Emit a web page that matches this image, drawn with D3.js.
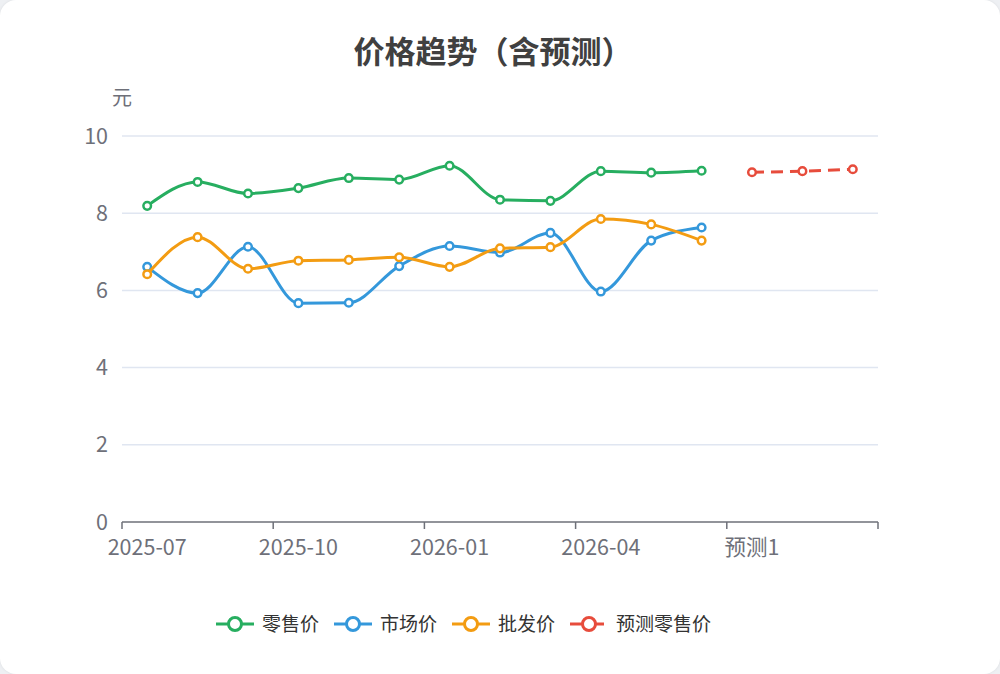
<!DOCTYPE html>
<html>
<head>
<meta charset="utf-8">
<script src="https://cdn.jsdelivr.net/npm/d3@7"></script>
<style>
  html, body { margin: 0; padding: 0; background: #eef0f3; }
  #card {
    width: 1000px; height: 674px; background: #fff; border-radius: 16px;
    box-shadow: 0 0 3px rgba(0,0,0,0.08); overflow: hidden;
  }
  text { font-family: "Noto Sans CJK SC", "Noto Sans", sans-serif; }
</style>
</head>
<body>
<div id="card"></div>
<script>
let w = 1000;
let h = 674;

// categories: 12 months + 3 forecast slots
const months = ["2025-07", "2025-08", "2025-09", "2025-10", "2025-11", "2025-12",
  "2026-01", "2026-02", "2026-03", "2026-04", "2026-05", "2026-06",
  "预测1", "预测2", "预测3"];
const retail = [8.19, 8.81, 8.51, 8.65, 8.91, 8.87, 9.23, 8.35, 8.32, 9.09, 9.05, 9.10];
const market = [6.61, 5.93, 7.13, 5.67, 5.68, 6.63, 7.15, 6.98, 7.49, 5.97, 7.29, 7.63];
const wholesale = [6.42, 7.38, 6.56, 6.77, 6.79, 6.86, 6.61, 7.09, 7.12, 7.85, 7.71, 7.29];
const forecast = [9.06, 9.09, 9.14];
const yTicks = [0, 2, 4, 6, 8, 10];

const series = [
  { name: "零售价", color: "#27ae60", values: retail, offset: 0, dashed: false },
  { name: "市场价", color: "#3498db", values: market, offset: 0, dashed: false },
  { name: "批发价", color: "#f39c12", values: wholesale, offset: 0, dashed: false },
  { name: "预测零售价", color: "#e74c3c", values: forecast, offset: 12, dashed: true },
];

const plotLeft = 122, plotRight = 878, plotTop = 136, plotBottom = 522;

var svg = d3.select("#card").append("svg").attr("width", w).attr("height", h);

var x = d3.scaleBand().domain(months).range([plotLeft, plotRight]).padding(0);
var y = d3.scaleLinear().domain([0, 10]).range([plotBottom, plotTop]);
const cx = (i) => x(months[i]) + x.bandwidth() / 2;

// title
svg.append("text")
  .attr("x", 493).attr("y", 63)
  .attr("text-anchor", "middle")
  .attr("font-size", 31).attr("font-weight", "bold")
  .attr("fill", "#404040")
  .text("价格趋势（含预测）");

// y axis name
svg.append("text")
  .attr("x", 122).attr("y", 105)
  .attr("text-anchor", "middle")
  .attr("font-size", 20).attr("fill", "#6e7079")
  .text("元");

// grid lines + y labels
yTicks.forEach((t) => {
  if (t > 0) {
    svg.append("line")
      .attr("x1", plotLeft).attr("x2", plotRight)
      .attr("y1", y(t)).attr("y2", y(t))
      .attr("stroke", "#e0e6f1").attr("stroke-width", 1.5);
  }
  svg.append("text")
    .attr("x", 108).attr("y", y(t) + 7.5)
    .attr("text-anchor", "end")
    .attr("font-size", 21.5).attr("fill", "#6e7079")
    .text(t);
});

// x axis line, ticks at band boundaries every 3 categories
svg.append("line")
  .attr("x1", plotLeft).attr("x2", plotRight)
  .attr("y1", plotBottom).attr("y2", plotBottom)
  .attr("stroke", "#6e7079").attr("stroke-width", 1.5);

months.forEach((m, i) => {
  if (i % 3 !== 0) return;
  svg.append("line")
    .attr("x1", x(m)).attr("x2", x(m))
    .attr("y1", plotBottom).attr("y2", plotBottom + 7)
    .attr("stroke", "#6e7079").attr("stroke-width", 1.5);
  svg.append("text")
    .attr("x", cx(i)).attr("y", plotBottom + 33)
    .attr("text-anchor", "middle")
    .attr("font-size", 21.5).attr("fill", "#6e7079")
    .text(m);
});
svg.append("line")
  .attr("x1", plotRight).attr("x2", plotRight)
  .attr("y1", plotBottom).attr("y2", plotBottom + 7)
  .attr("stroke", "#6e7079").attr("stroke-width", 1.5);

// lines and markers
var line = d3.line()
  .x((d) => cx(d.i))
  .y((d) => y(d.v))
  .curve(d3.curveMonotoneX);

series.forEach((s) => {
  const pts = s.values.map((v, k) => ({ i: k + s.offset, v: v }));
  const g = svg.append("g");
  g.append("path")
    .datum(pts)
    .attr("d", line)
    .attr("fill", "none")
    .attr("stroke", s.color)
    .attr("stroke-width", 3)
    .attr("stroke-dasharray", s.dashed ? "12,7" : null);
  g.selectAll("circle")
    .data(pts)
    .enter()
    .append("circle")
    .attr("cx", (d) => cx(d.i))
    .attr("cy", (d) => y(d.v))
    .attr("r", 3.8)
    .attr("fill", "#fff")
    .attr("stroke", s.color)
    .attr("stroke-width", 2.5);
});

// legend
let lx = 216;
const ly = 624;
series.forEach((s) => {
  const g = svg.append("g").attr("transform", "translate(" + lx + "," + ly + ")");
  g.append("line")
    .attr("x1", 0).attr("x2", 38).attr("y1", 0).attr("y2", 0)
    .attr("stroke", s.color).attr("stroke-width", 3)
    .attr("stroke-dasharray", s.dashed ? "14,6" : null);
  g.append("circle")
    .attr("cx", 19).attr("cy", 0).attr("r", 6.5)
    .attr("fill", "#fff").attr("stroke", s.color).attr("stroke-width", 3);
  g.append("text")
    .attr("x", 46).attr("y", 7)
    .attr("font-size", 19).attr("fill", "#333")
    .text(s.name);
  lx += 46 + s.name.length * 18 + 18;
});
</script>
</body>
</html>
